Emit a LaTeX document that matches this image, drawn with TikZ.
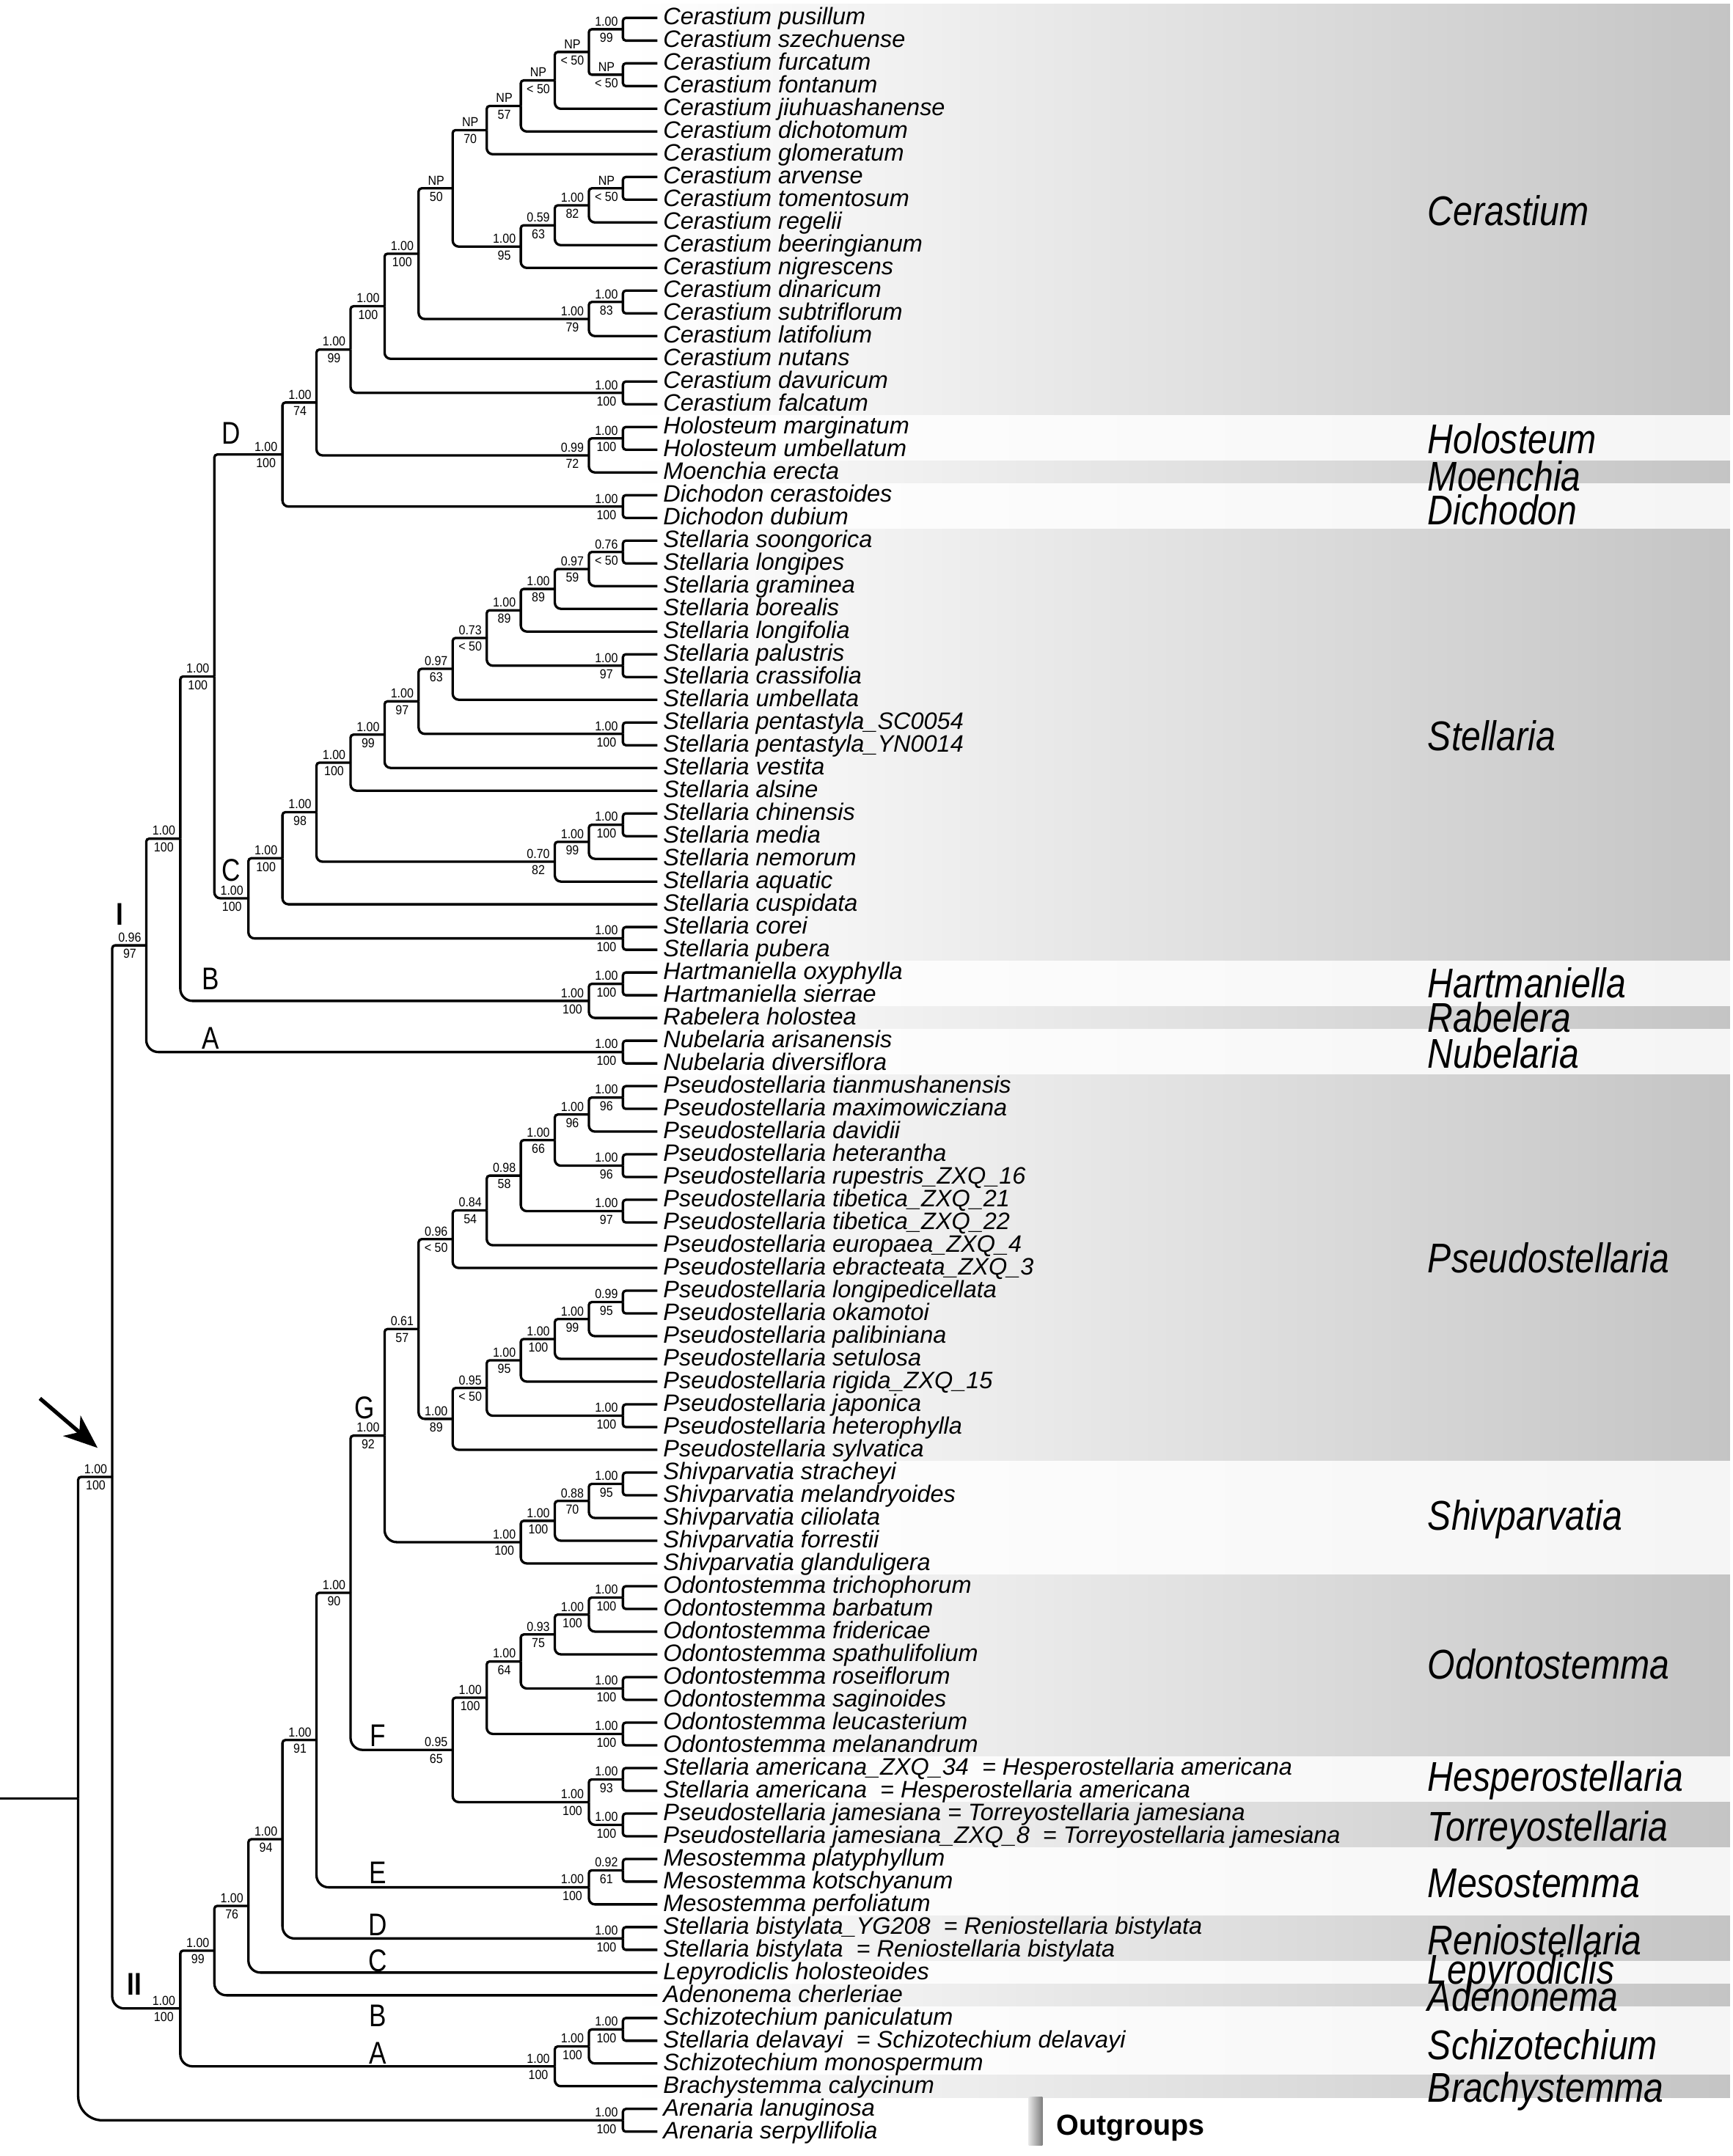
\documentclass[tikz,border=0pt]{standalone}
\usepackage{fontspec}
\setmainfont{Liberation Sans}
\newfontfamily\tipfont{Liberation Sans}
\newfontfamily\genfont[FakeStretch=0.85]{Liberation Sans}
\newfontfamily\supfont[FakeStretch=0.9]{Liberation Sans}
\newfontfamily\cladefont[FakeStretch=0.82]{Liberation Sans}
\usetikzlibrary{arrows.meta}
\newcommand\tp[3]{\coordinate (#1) at (478,{13+16.53*(#2-1)});
 \node[tiplab] (#1x) at (482,{18+16.53*(#2-1)}) {#3};}
\newcommand\nd[5]{\coordinate (#1) at ({453-24.76*(#2)},#3);
 \node[sup] (#1u) at ({441-24.76*(#2)},{#3-2.5}) {#4};
 \node[sup] (#1l) at ({441-24.76*(#2)},{#3+9.5}) {#5};}
\newcommand\kids[4]{\draw[br,up] (#1) |- (#2); \draw[br,#4] (#1) |- (#3);}
\newcommand\band[4]{\shade[#1] (460,#2) rectangle (1258,#3);}
\begin{document}
\begin{tikzpicture}[x=0.02cm,y=-0.02cm,
  br/.style={line width=1pt,black},
  up/.style={rounded corners=1.2pt},
  ls/.style={rounded corners=1.2pt},
  lm/.style={rounded corners=2.5pt},
  lb/.style={rounded corners=5pt},
  lx/.style={rounded corners=10pt},
  dk/.style={left color=white,right color=black!23},
  lt/.style={left color=white,right color=black!4},
  tiplab/.style={anchor=base west,inner sep=0pt,font=\tipfont\itshape\fontsize{9.85}{10}\selectfont},
  sup/.style={anchor=base,inner sep=0pt,font=\supfont\fontsize{5.4}{5.5}\selectfont},
  genus/.style={anchor=base west,inner sep=0pt,font=\genfont\itshape\fontsize{17.2}{18}\selectfont},
  clade/.style={anchor=center,inner sep=0pt,font=\cladefont\fontsize{13}{14}\selectfont},
  cladeb/.style={anchor=center,inner sep=0pt,font=\cladefont\bfseries\fontsize{13}{14}\selectfont}]
\useasboundingbox (0,0) rectangle (1260,1568);
\fill[white] (0,0) rectangle (1260,1568);
% background bands
\band{dk}{3}{302.3}{Cerastium}
\band{lt}{302.3}{335.3}{Holosteum}
\band{dk}{335.3}{351.9}{Moenchia}
\band{lt}{351.9}{384.9}{Dichodon}
\band{dk}{384.9}{699.0}{Stellaria}
\band{lt}{699.0}{732.1}{Hartmaniella}
\band{dk}{732.1}{748.6}{Rabelera}
\band{lt}{748.6}{781.6}{Nubelaria}
\band{dk}{781.6}{1062.7}{Pseudostellaria}
\band{lt}{1062.7}{1145.3}{Shivparvatia}
\band{dk}{1145.3}{1277.5}{Odontostemma}
\band{lt}{1277.5}{1310.6}{Hesperostellaria}
\band{dk}{1310.6}{1343.7}{Torreyostellaria}
\band{lt}{1343.7}{1393.3}{Mesostemma}
\band{dk}{1393.3}{1426.3}{Reniostellaria}
\band{lt}{1426.3}{1442.8}{Lepyrodiclis}
\band{dk}{1442.8}{1459.4}{Adenonema}
\band{lt}{1459.4}{1509.0}{Schizotechium}
\band{dk}{1509.0}{1525.5}{Brachystemma}
\shade[left color=black!10,right color=black!50] (748,1525) rectangle (758,1560);
\node[anchor=base west,inner sep=0pt,font=\bfseries\fontsize{12}{13}\selectfont] (outg) at (768,1553) {Outgroups};
% genus labels
\node[genus] (gCer) at (1038,163.8) {Cerastium};
\node[genus] (gHol) at (1038,329.8) {Holosteum};
\node[genus] (gMoe) at (1038,356.8) {Moenchia};
\node[genus] (gDic) at (1038,381.8) {Dichodon};
\node[genus] (gSte) at (1038,545.8) {Stellaria};
\node[genus] (gHar) at (1038,725.8) {Hartmaniella};
\node[genus] (gRab) at (1038,750.8) {Rabelera};
\node[genus] (gNub) at (1038,776.8) {Nubelaria};
\node[genus] (gPse) at (1038,925.8) {Pseudostellaria};
\node[genus] (gShi) at (1038,1112.8) {Shivparvatia};
\node[genus] (gOdo) at (1038,1220.8) {Odontostemma};
\node[genus] (gHes) at (1038,1302.8) {Hesperostellaria};
\node[genus] (gTor) at (1038,1338.8) {Torreyostellaria};
\node[genus] (gMes) at (1038,1379.8) {Mesostemma};
\node[genus] (gRen) at (1038,1421.8) {Reniostellaria};
\node[genus] (gLep) at (1038,1442.8) {Lepyrodiclis};
\node[genus] (gAde) at (1038,1462.8) {Adenonema};
\node[genus] (gSch) at (1038,1497.8) {Schizotechium};
\node[genus] (gBra) at (1038,1528.8) {Brachystemma};
% tips
\tp{t1}{1}{Cerastium pusillum}
\tp{t2}{2}{Cerastium szechuense}
\tp{t3}{3}{Cerastium furcatum}
\tp{t4}{4}{Cerastium fontanum}
\tp{t5}{5}{Cerastium jiuhuashanense}
\tp{t6}{6}{Cerastium dichotomum}
\tp{t7}{7}{Cerastium glomeratum}
\tp{t8}{8}{Cerastium arvense}
\tp{t9}{9}{Cerastium tomentosum}
\tp{t10}{10}{Cerastium regelii}
\tp{t11}{11}{Cerastium beeringianum}
\tp{t12}{12}{Cerastium nigrescens}
\tp{t13}{13}{Cerastium dinaricum}
\tp{t14}{14}{Cerastium subtriflorum}
\tp{t15}{15}{Cerastium latifolium}
\tp{t16}{16}{Cerastium nutans}
\tp{t17}{17}{Cerastium davuricum}
\tp{t18}{18}{Cerastium falcatum}
\tp{t19}{19}{Holosteum marginatum}
\tp{t20}{20}{Holosteum umbellatum}
\tp{t21}{21}{Moenchia erecta}
\tp{t22}{22}{Dichodon cerastoides}
\tp{t23}{23}{Dichodon dubium}
\tp{t24}{24}{Stellaria soongorica}
\tp{t25}{25}{Stellaria longipes}
\tp{t26}{26}{Stellaria graminea}
\tp{t27}{27}{Stellaria borealis}
\tp{t28}{28}{Stellaria longifolia}
\tp{t29}{29}{Stellaria palustris}
\tp{t30}{30}{Stellaria crassifolia}
\tp{t31}{31}{Stellaria umbellata}
\tp{t32}{32}{Stellaria pentastyla\_SC0054}
\tp{t33}{33}{Stellaria pentastyla\_YN0014}
\tp{t34}{34}{Stellaria vestita}
\tp{t35}{35}{Stellaria alsine}
\tp{t36}{36}{Stellaria chinensis}
\tp{t37}{37}{Stellaria media}
\tp{t38}{38}{Stellaria nemorum}
\tp{t39}{39}{Stellaria aquatic}
\tp{t40}{40}{Stellaria cuspidata}
\tp{t41}{41}{Stellaria corei}
\tp{t42}{42}{Stellaria pubera}
\tp{t43}{43}{Hartmaniella oxyphylla}
\tp{t44}{44}{Hartmaniella sierrae}
\tp{t45}{45}{Rabelera holostea}
\tp{t46}{46}{Nubelaria arisanensis}
\tp{t47}{47}{Nubelaria diversiflora}
\tp{t48}{48}{Pseudostellaria tianmushanensis}
\tp{t49}{49}{Pseudostellaria maximowicziana}
\tp{t50}{50}{Pseudostellaria davidii}
\tp{t51}{51}{Pseudostellaria heterantha}
\tp{t52}{52}{Pseudostellaria rupestris\_ZXQ\_16}
\tp{t53}{53}{Pseudostellaria tibetica\_ZXQ\_21}
\tp{t54}{54}{Pseudostellaria tibetica\_ZXQ\_22}
\tp{t55}{55}{Pseudostellaria europaea\_ZXQ\_4}
\tp{t56}{56}{Pseudostellaria ebracteata\_ZXQ\_3}
\tp{t57}{57}{Pseudostellaria longipedicellata}
\tp{t58}{58}{Pseudostellaria okamotoi}
\tp{t59}{59}{Pseudostellaria palibiniana}
\tp{t60}{60}{Pseudostellaria setulosa}
\tp{t61}{61}{Pseudostellaria rigida\_ZXQ\_15}
\tp{t62}{62}{Pseudostellaria japonica}
\tp{t63}{63}{Pseudostellaria heterophylla}
\tp{t64}{64}{Pseudostellaria sylvatica}
\tp{t65}{65}{Shivparvatia stracheyi}
\tp{t66}{66}{Shivparvatia melandryoides}
\tp{t67}{67}{Shivparvatia ciliolata}
\tp{t68}{68}{Shivparvatia forrestii}
\tp{t69}{69}{Shivparvatia glanduligera}
\tp{t70}{70}{Odontostemma trichophorum}
\tp{t71}{71}{Odontostemma barbatum}
\tp{t72}{72}{Odontostemma fridericae}
\tp{t73}{73}{Odontostemma spathulifolium}
\tp{t74}{74}{Odontostemma roseiflorum}
\tp{t75}{75}{Odontostemma saginoides}
\tp{t76}{76}{Odontostemma leucasterium}
\tp{t77}{77}{Odontostemma melanandrum}
\tp{t78}{78}{Stellaria americana\_ZXQ\_34\ \ = Hesperostellaria americana}
\tp{t79}{79}{Stellaria americana\ \ = Hesperostellaria americana}
\tp{t80}{80}{Pseudostellaria jamesiana\ = Torreyostellaria jamesiana}
\tp{t81}{81}{Pseudostellaria jamesiana\_ZXQ\_8\ \ = Torreyostellaria jamesiana}
\tp{t82}{82}{Mesostemma platyphyllum}
\tp{t83}{83}{Mesostemma kotschyanum}
\tp{t84}{84}{Mesostemma perfoliatum}
\tp{t85}{85}{Stellaria bistylata\_YG208\ \ = Reniostellaria bistylata}
\tp{t86}{86}{Stellaria bistylata\ \ = Reniostellaria bistylata}
\tp{t87}{87}{Lepyrodiclis holosteoides}
\tp{t88}{88}{Adenonema cherleriae}
\tp{t89}{89}{Schizotechium paniculatum}
\tp{t90}{90}{Stellaria delavayi\ \ = Schizotechium delavayi}
\tp{t91}{91}{Schizotechium monospermum}
\tp{t92}{92}{Brachystemma calycinum}
\tp{t93}{93}{Arenaria lanuginosa}
\tp{t94}{94}{Arenaria serpyllifolia}
% internal nodes: name, level, y, upper, lower
\nd{nps}{0}{21.27}{1.00}{99}
\nd{nff}{0}{54.33}{NP}{< 50}
\nd{npsff}{1}{37.80}{NP}{< 50}
\nd{nj}{2}{58.46}{NP}{< 50}
\nd{nd}{3}{77.05}{NP}{57}
\nd{ng}{4}{94.62}{NP}{70}
\nd{nat}{0}{136.98}{NP}{< 50}
\nd{natr}{1}{149.37}{1.00}{82}
\nd{natrb}{2}{163.84}{0.59}{63}
\nd{natrbn}{3}{179.33}{1.00}{95}
\nd{nA}{5}{136.97}{NP}{50}
\nd{nds}{0}{219.63}{1.00}{83}
\nd{ndsl}{1}{232.02}{1.00}{79}
\nd{nB}{6}{184.50}{1.00}{100}
\nd{nC}{7}{222.72}{1.00}{100}
\nd{ndf}{0}{285.75}{1.00}{100}
\nd{nCer}{8}{254.23}{1.00}{99}
\nd{nhol}{0}{318.81}{1.00}{100}
\nd{nholm}{1}{331.20}{0.99}{72}
\nd{nsf}{9}{292.72}{1.00}{74}
\nd{ndic}{0}{368.40}{1.00}{100}
\nd{nDD}{10}{330.56}{1.00}{100}
\nd{ns1}{0}{401.46}{0.76}{< 50}
\nd{ns2}{1}{413.85}{0.97}{59}
\nd{ns3}{2}{428.32}{1.00}{89}
\nd{ns4}{3}{443.81}{1.00}{89}
\nd{npc}{0}{484.11}{1.00}{97}
\nd{ns5}{4}{463.96}{0.73}{< 50}
\nd{ns6}{5}{486.43}{0.97}{63}
\nd{npen}{0}{533.70}{1.00}{100}
\nd{ns7}{6}{510.06}{1.00}{97}
\nd{ns8}{7}{534.27}{1.00}{99}
\nd{ns9}{8}{554.65}{1.00}{100}
\nd{ncm}{0}{599.82}{1.00}{100}
\nd{ncmn}{1}{612.21}{1.00}{99}
\nd{ncmna}{2}{626.68}{0.70}{82}
\nd{nsx}{9}{590.66}{1.00}{98}
\nd{nsy}{10}{624.17}{1.00}{100}
\nd{ncp}{0}{682.47}{1.00}{100}
\nd{nCC}{11}{653.32}{1.00}{100}
\nd{nCD}{12}{491.94}{1.00}{100}
\nd{nhart}{0}{715.53}{1.00}{100}
\nd{nBB}{1}{727.92}{1.00}{100}
\nd{nICDB}{13}{609.93}{1.00}{100}
\nd{nnub}{0}{765.12}{1.00}{100}
\nd{nI}{14}{687.52}{0.96}{97}
\nd{np1}{0}{798.18}{1.00}{96}
\nd{np2}{1}{810.57}{1.00}{96}
\nd{nhr}{0}{847.77}{1.00}{96}
\nd{np3}{2}{829.17}{1.00}{66}
\nd{ntt}{0}{880.83}{1.00}{97}
\nd{np4}{3}{855.00}{0.98}{58}
\nd{np5}{4}{880.31}{0.84}{54}
\nd{np6}{5}{901.23}{0.96}{< 50}
\nd{nlo}{0}{946.95}{0.99}{95}
\nd{nlop}{1}{959.34}{1.00}{99}
\nd{nlops}{2}{973.81}{1.00}{100}
\nd{npq}{3}{989.30}{1.00}{95}
\nd{njh}{0}{1029.60}{1.00}{100}
\nd{npr}{4}{1009.45}{0.95}{< 50}
\nd{npt}{5}{1031.92}{1.00}{89}
\nd{npG}{6}{966.57}{0.61}{57}
\nd{nsh1}{0}{1079.19}{1.00}{95}
\nd{nsh2}{1}{1091.58}{0.88}{70}
\nd{nsh3}{2}{1106.05}{1.00}{100}
\nd{nsh4}{3}{1121.54}{1.00}{100}
\nd{nG}{7}{1044.06}{1.00}{92}
\nd{no1}{0}{1161.84}{1.00}{100}
\nd{no2}{1}{1174.23}{1.00}{100}
\nd{no3}{2}{1188.70}{0.93}{75}
\nd{nrs}{0}{1227.96}{1.00}{100}
\nd{no4}{3}{1208.33}{1.00}{64}
\nd{nlm}{0}{1261.02}{1.00}{100}
\nd{no5}{4}{1234.67}{1.00}{100}
\nd{nhesp}{0}{1294.08}{1.00}{93}
\nd{ntorr}{0}{1327.14}{1.00}{100}
\nd{nHT}{1}{1310.61}{1.00}{100}
\nd{nF}{5}{1272.64}{0.95}{65}
\nd{nnin}{8}{1158.35}{1.00}{90}
\nd{nm1}{0}{1360.20}{0.92}{61}
\nd{nE}{1}{1372.59}{1.00}{100}
\nd{nnone}{9}{1265.47}{1.00}{91}
\nd{nren}{0}{1409.79}{1.00}{100}
\nd{nnfour}{10}{1337.63}{1.00}{94}
\nd{nsev}{11}{1386.10}{1.00}{76}
\nd{nnn}{12}{1418.61}{1.00}{99}
\nd{nsc1}{0}{1475.91}{1.00}{100}
\nd{nsc2}{1}{1488.30}{1.00}{100}
\nd{nA2}{2}{1502.77}{1.00}{100}
\nd{nII}{13}{1460.69}{1.00}{100}
\nd{ning}{15}{1074.10}{1.00}{100}
\nd{nout}{0}{1542.03}{1.00}{100}
\coordinate (nroot) at ({453-24.76*16},1308.07);
\coordinate (stub) at (0,1308.07);
% branches
\kids{nps}{t1}{t2}{ls}
\kids{nff}{t3}{t4}{ls}
\kids{npsff}{nps}{nff}{ls}
\kids{nj}{npsff}{t5}{lm}
\kids{nd}{nj}{t6}{lm}
\kids{ng}{nd}{t7}{lm}
\kids{nat}{t8}{t9}{ls}
\kids{natr}{nat}{t10}{lm}
\kids{natrb}{natr}{t11}{lm}
\kids{natrbn}{natrb}{t12}{lm}
\kids{nA}{ng}{natrbn}{lm}
\kids{nds}{t13}{t14}{ls}
\kids{ndsl}{nds}{t15}{lm}
\kids{nB}{nA}{ndsl}{lm}
\kids{nC}{nB}{t16}{lm}
\kids{ndf}{t17}{t18}{ls}
\kids{nCer}{nC}{ndf}{lm}
\kids{nhol}{t19}{t20}{ls}
\kids{nholm}{nhol}{t21}{lm}
\kids{nsf}{nCer}{nholm}{lm}
\kids{ndic}{t22}{t23}{ls}
\kids{nDD}{nsf}{ndic}{lm}
\kids{ns1}{t24}{t25}{ls}
\kids{ns2}{ns1}{t26}{lm}
\kids{ns3}{ns2}{t27}{lm}
\kids{ns4}{ns3}{t28}{lm}
\kids{npc}{t29}{t30}{ls}
\kids{ns5}{ns4}{npc}{lm}
\kids{ns6}{ns5}{t31}{lm}
\kids{npen}{t32}{t33}{ls}
\kids{ns7}{ns6}{npen}{lm}
\kids{ns8}{ns7}{t34}{lm}
\kids{ns9}{ns8}{t35}{lm}
\kids{ncm}{t36}{t37}{ls}
\kids{ncmn}{ncm}{t38}{lm}
\kids{ncmna}{ncmn}{t39}{lm}
\kids{nsx}{ns9}{ncmna}{lm}
\kids{nsy}{nsx}{t40}{lm}
\kids{ncp}{t41}{t42}{ls}
\kids{nCC}{nsy}{ncp}{lm}
\kids{nCD}{nDD}{nCC}{lm}
\kids{nhart}{t43}{t44}{ls}
\kids{nBB}{nhart}{t45}{lm}
\kids{nICDB}{nCD}{nBB}{lb}
\kids{nnub}{t46}{t47}{ls}
\kids{nI}{nICDB}{nnub}{lb}
\kids{np1}{t48}{t49}{ls}
\kids{np2}{np1}{t50}{lm}
\kids{nhr}{t51}{t52}{ls}
\kids{np3}{np2}{nhr}{lm}
\kids{ntt}{t53}{t54}{ls}
\kids{np4}{np3}{ntt}{lm}
\kids{np5}{np4}{t55}{lm}
\kids{np6}{np5}{t56}{lm}
\kids{nlo}{t57}{t58}{ls}
\kids{nlop}{nlo}{t59}{lm}
\kids{nlops}{nlop}{t60}{lm}
\kids{npq}{nlops}{t61}{lm}
\kids{njh}{t62}{t63}{ls}
\kids{npr}{npq}{njh}{lm}
\kids{npt}{npr}{t64}{lm}
\kids{npG}{np6}{npt}{lm}
\kids{nsh1}{t65}{t66}{ls}
\kids{nsh2}{nsh1}{t67}{lm}
\kids{nsh3}{nsh2}{t68}{lm}
\kids{nsh4}{nsh3}{t69}{lm}
\kids{nG}{npG}{nsh4}{lb}
\kids{no1}{t70}{t71}{ls}
\kids{no2}{no1}{t72}{lm}
\kids{no3}{no2}{t73}{lm}
\kids{nrs}{t74}{t75}{ls}
\kids{no4}{no3}{nrs}{lm}
\kids{nlm}{t76}{t77}{ls}
\kids{no5}{no4}{nlm}{lm}
\kids{nhesp}{t78}{t79}{ls}
\kids{ntorr}{t80}{t81}{ls}
\kids{nHT}{nhesp}{ntorr}{lm}
\kids{nF}{no5}{nHT}{lm}
\kids{nnin}{nG}{nF}{lb}
\kids{nm1}{t82}{t83}{ls}
\kids{nE}{nm1}{t84}{lm}
\kids{nnone}{nnin}{nE}{lb}
\kids{nren}{t85}{t86}{ls}
\kids{nnfour}{nnone}{nren}{lb}
\kids{nsev}{nnfour}{t87}{lb}
\kids{nnn}{nsev}{t88}{lb}
\kids{nsc1}{t89}{t90}{ls}
\kids{nsc2}{nsc1}{t91}{lm}
\kids{nA2}{nsc2}{t92}{lm}
\kids{nII}{nnn}{nA2}{lb}
\kids{ning}{nI}{nII}{lb}
\kids{nout}{t93}{t94}{ls}
\kids{nroot}{ning}{nout}{lx}
\draw[br] (stub) -- (nroot);
% clade letters
\node[clade] (cD1) at (168,315) {D};
\node[clade] (cC1) at (168,633) {C};
\node[clade] (cB1) at (153,712) {B};
\node[clade] (cA1) at (153,755) {A};
\node[cladeb] (cI) at (87,665) {I};
\node[clade] (cG2) at (265,1024) {G};
\node[clade] (cF2) at (275,1262) {F};
\node[clade] (cE2) at (275,1362) {E};
\node[clade] (cD2) at (275,1400) {D};
\node[clade] (cC2) at (275,1426) {C};
\node[clade] (cB2) at (275,1466) {B};
\node[clade] (cA2) at (275,1493) {A};
\node[cladeb] (cII) at (98,1443) {II};
% arrow
\coordinate (arT) at (29,1017);
\coordinate (arH) at (71,1053);
\draw[line width=1.6pt,-{Stealth[length=14pt,width=11pt,inset=4pt]}] (arT) -- (arH);
\end{tikzpicture}
\end{document}
